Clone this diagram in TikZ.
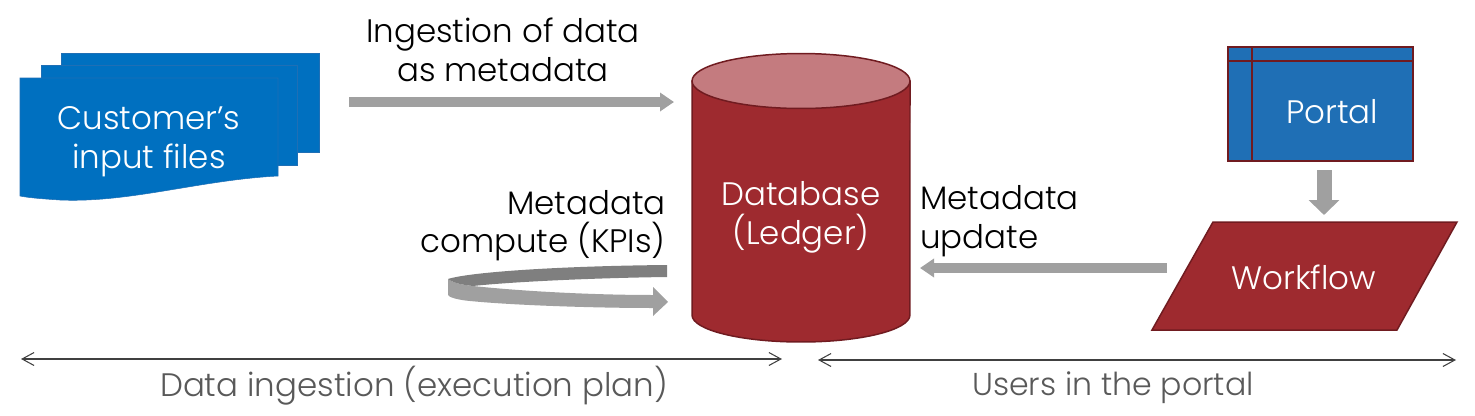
\documentclass[tikz,border=0pt]{standalone}
\usepackage{fontspec}
\setmainfont{Poppins Light}
\usepackage{xcolor}
\usetikzlibrary{positioning,calc,arrows.meta,shapes.geometric}
\definecolor{fileblue}{HTML}{0070C0}
\definecolor{portalblue}{HTML}{1F6FB5}
\definecolor{dbred}{HTML}{9E2A2F}
\definecolor{dbtop}{HTML}{C47B7F}
\definecolor{edgered}{HTML}{701B20}
\definecolor{flowgray}{HTML}{A0A0A0}
\definecolor{flowdark}{HTML}{7F7F7F}
\definecolor{spangray}{HTML}{404040}
\definecolor{captgray}{HTML}{595959}
\tikzstyle{label} = [font=\fontsize{18.5}{22}\selectfont, align=center, inner sep=0pt]
\tikzstyle{inner} = [label, text=white]
\tikzstyle{caption} = [label, text=captgray]
\tikzstyle{sheet} = [fill=fileblue, draw=portalblue, line width=0.3pt]
\tikzstyle{solid} = [draw=edgered, line width=0.85pt]
\tikzstyle{to} = [-{Triangle[length=0.28cm,width=0.36cm]}, draw=flowgray, line width=0.2cm]
\tikzstyle{span} = [{Straight Barb[length=0.24cm,width=0.26cm]}-{Straight Barb[length=0.24cm,width=0.26cm]}, draw=spangray, line width=0.6pt]

\begin{document}
\begin{tikzpicture}[x=0.02cm, y=-0.02cm]
	\useasboundingbox (0,0) rectangle (1475,416);
	% input files
	\draw [sheet] (61,53) -- (319,53) -- (319,152) -- (61,152) -- cycle;
	\draw [sheet] (41,65) -- (297,65) -- (297,165) -- (41,165) -- cycle;
	\draw [sheet] (20,78) -- (278,78) -- (278,176) .. controls (200,180) and (130,203) .. (60,200) .. controls (45,199) and (30,198) .. (20,196) -- cycle;
	\node (files) [inner] at (149,142) {Customer’s\\input files};
	% database
	\draw [solid, fill=dbred] (692,81) -- (692,315) arc [start angle=180, end angle=360, x radius=2.18cm, y radius=0.54cm] -- (910,81) -- cycle;
	\draw [solid, fill=dbtop] (801,81) ellipse [x radius=2.18cm, y radius=0.55cm];
	\node (db) [inner] at (801,217) {Database\\(Ledger)};
	% portal and workflow
	\node (portal) [rectangle, draw=edgered, fill=portalblue, line width=1.2pt, minimum width=3.7cm, minimum height=2.28cm, inner] at (1320.5,104) {};
	\draw [edgered, line width=1.2pt] (1252,47) -- (1252,161) (1228,61) -- (1413,61);
	\node (portaltext) [inner] at (1332,112) {Portal};
	\draw [solid, fill=dbred] (1213,222) -- (1457,222) -- (1397,330) -- (1152,330) -- cycle;
	\node (workflow) [inner] at (1304,277) {Workflow};
	% labels
	\node (ingest) [label] at (503,50) {Ingestion of data\\as metadata};
	\node (compute) [label, align=right, anchor=east] at (666,225.5) {Metadata\\compute (KPIs)};
	\node (update) [label, align=left, anchor=west] at (920,221) {Metadata\\update};
	\node (left) [caption] at (414,386) {Data ingestion (execution plan)};
	\node (right) [caption, font=\fontsize{18}{22}\selectfont] at (1113,388) {Users in the portal};
	% flows
	\coordinate (ingestfrom) at (349,102);
	\coordinate (ingestto) at (674,102);
	\coordinate (wffrom) at (1167,268);
	\coordinate (wfto) at (920,268);
	\coordinate (portalfrom) at (1324,170);
	\coordinate (portalto) at (1324,215);
	\draw [to] (ingestfrom) -- (ingestto);
	\draw [to] (wffrom) -- (wfto);
	\draw [to, -{Triangle[length=0.3cm,width=0.6cm]}, line width=0.3cm] (portalfrom) -- (portalto);
	% compute loop
	\draw [fill=flowgray, draw=none] (448,279) .. controls (455,284) and (465,285) .. (473,286) .. controls (530,292) and (600,295) .. (653,295) -- (653,287) -- (668,302) -- (653,316) -- (653,308) .. controls (590,308) and (510,305) .. (470,301) .. controls (458,300) and (448,297) .. (448,295) -- cycle;
	\draw [fill=flowdark, draw=none] (667,265) -- (667,277) .. controls (590,278) and (510,282) .. (473,286) .. controls (465,285) and (455,284) .. (448,279) .. controls (470,272) and (560,266) .. (667,265) -- cycle;
	% spans
	\coordinate (leftfrom) at (21,359);
	\coordinate (leftto) at (782,359);
	\coordinate (rightfrom) at (818,360);
	\coordinate (rightto) at (1456,360);
	\draw [span] (leftfrom) -- (leftto);
	\draw [span] (rightfrom) -- (rightto);
\end{tikzpicture}
\end{document}
